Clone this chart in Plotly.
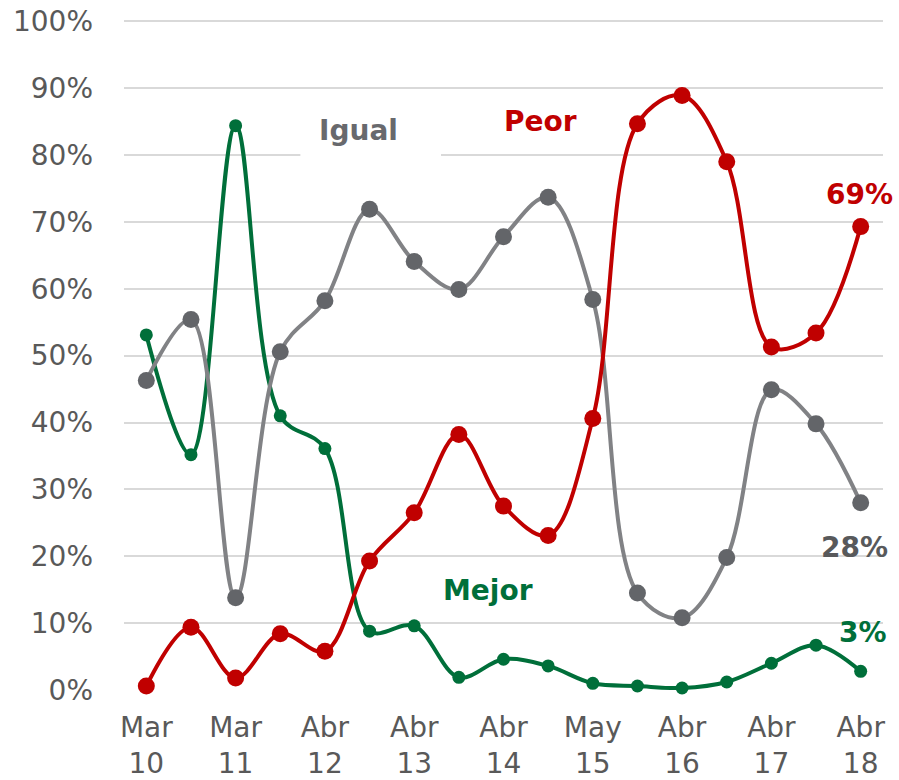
import plotly.graph_objects as go

# 17 survey waves, ticks shown every other wave
tick_labels = ["Mar<br>10", "Mar<br>11", "Abr<br>12", "Abr<br>13", "Abr<br>14",
               "May<br>15", "Abr<br>16", "Abr<br>17", "Abr<br>18"]
waves = list(range(17))

igual = [46.3, 55.4, 13.8, 50.6, 58.2, 71.9, 64.1, 59.9, 67.8, 73.7,
         58.4, 14.5, 10.8, 19.8, 44.9, 39.8, 28.0]
peor = [0.6, 9.4, 1.8, 8.4, 5.8, 19.3, 26.5, 38.2, 27.5, 23.1,
        40.6, 84.7, 88.9, 79.0, 51.3, 53.4, 69.3]
mejor = [53.1, 35.2, 84.4, 41.0, 36.1, 8.8, 9.6, 1.9, 4.6, 3.6,
         1.0, 0.6, 0.3, 1.2, 4.0, 6.7, 2.8]

RED = "#c00000"
GREEN = "#006f3a"
GRAY_LINE = "#818285"
GRAY_DOT = "#636569"
TEXT = "#595959"
FONT = "DejaVu Sans"

fig = go.Figure()

fig.add_trace(go.Scatter(
    x=waves, y=mejor, mode="lines+markers", name="Mejor",
    line=dict(color=GREEN, width=4, shape="spline", smoothing=1.0),
    marker=dict(color=GREEN, size=13), cliponaxis=False,
))
fig.add_trace(go.Scatter(
    x=waves, y=igual, mode="lines+markers", name="Igual",
    line=dict(color=GRAY_LINE, width=4, shape="spline", smoothing=1.0),
    marker=dict(color=GRAY_DOT, size=17), cliponaxis=False,
))
fig.add_trace(go.Scatter(
    x=waves, y=peor, mode="lines+markers", name="Peor",
    line=dict(color=RED, width=4, shape="spline", smoothing=1.0),
    marker=dict(color=RED, size=17), cliponaxis=False,
))

# white box behind "Igual" hides the gridline
fig.add_shape(type="rect", x0=3.45, x1=6.6, y0=79, y1=88,
              fillcolor="white", line_width=0, layer="between")

bold = dict(family=FONT, size=28, weight="bold")
fig.add_annotation(x=4.75, y=83.7, text="Igual", showarrow=False,
                   font=dict(**bold, color="#68696d"))
fig.add_annotation(x=8.83, y=85.0, text="Peor", showarrow=False,
                   font=dict(**bold, color=RED))
fig.add_annotation(x=7.66, y=14.9, text="Mejor", showarrow=False,
                   font=dict(**bold, color=GREEN))

fig.add_annotation(x=16, y=peor[-1], text=f"{round(peor[-1])}%", showarrow=False,
                   xanchor="right", xshift=34, yshift=32,
                   font=dict(**bold, color=RED))
fig.add_annotation(x=16, y=igual[-1], text=f"{round(igual[-1])}%", showarrow=False,
                   xanchor="right", xshift=29, yshift=-45,
                   font=dict(**bold, color="#58595b"))
fig.add_annotation(x=16, y=mejor[-1], text=f"{round(mejor[-1])}%", showarrow=False,
                   xanchor="right", xshift=28, yshift=39,
                   font=dict(**bold, color=GREEN))

fig.update_layout(
    width=899, height=780,
    margin=dict(l=124, r=16, t=18, b=90),
    plot_bgcolor="white", paper_bgcolor="white",
    showlegend=False, hovermode=False,
    font=dict(family=FONT, size=28, color=TEXT),
)
fig.update_xaxes(
    range=[-0.5, 16.5], tickmode="array",
    tickvals=waves[::2], ticktext=tick_labels,
    showgrid=False, zeroline=False, showline=False, ticks="",
    ticklabelstandoff=18, automargin=False,
    tickfont=dict(family=FONT, size=28, color=TEXT),
)
fig.update_yaxes(
    range=[0, 100.5], tickmode="linear", tick0=0, dtick=10, ticksuffix="%",
    showgrid=True, gridcolor="#d9d9d9", gridwidth=1.5,
    zeroline=False, showline=False, ticks="",
    ticklabelstandoff=30, automargin=False, ticklabeloverflow="allow",
    tickfont=dict(family=FONT, size=28, color=TEXT),
)

# drop the default page margin so the figure fills the window exactly
fig.write_html("out.html", config={"displayModeBar": False},
               post_script="document.body.style.margin='0';")
